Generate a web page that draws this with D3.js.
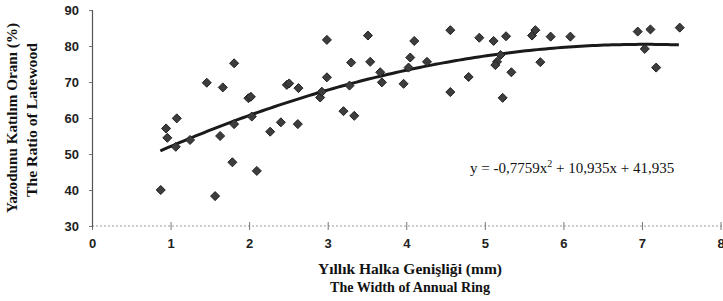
<!DOCTYPE html>
<html><head><meta charset="utf-8">
<script src="https://cdn.jsdelivr.net/npm/d3@7"></script>
<style>body{margin:0;background:#fff;}svg{display:block;}</style>
</head><body>
<script>
const xTicks = [0,1,2,3,4,5,6,7,8];
const yTicks = [30,40,50,60,70,80,90];
const ringWidth = [0.875,0.943,0.959,1.079,1.066,1.248,1.461,1.665,1.567,1.631,1.809,1.787,1.809,1.991,2.022,2.034,2.098,2.268,2.404,2.48,2.51,2.628,2.62,2.904,2.926,2.99,2.99,3.201,3.338,3.299,3.278,3.512,3.541,3.669,3.69,3.966,4.102,4.051,4.029,4.264,4.561,4.561,4.794,4.93,5.112,5.27,5.155,5.134,5.338,5.227,5.2,5.601,5.643,5.707,5.838,6.089,6.946,7.108,7.036,7.181,7.481];
const latewood = [40.0,57.1,54.5,59.9,52.0,53.9,69.8,68.5,38.3,55.0,75.2,47.7,58.3,65.5,65.9,60.4,45.3,56.2,58.8,69.2,69.6,68.3,58.3,65.7,67.3,81.7,71.3,61.9,60.6,75.4,69.0,82.9,75.6,72.7,69.9,69.5,81.4,76.8,74.0,75.6,84.4,67.2,71.4,82.3,81.4,82.7,75.6,74.7,72.7,65.6,77.5,82.9,84.4,75.5,82.6,82.6,84.0,84.6,79.2,74.0,85.1];
const coef = [-0.7759, 10.935, 41.935];
const fitRange = [0.87, 7.5];
const equation = "y = -0,7759x";
const equationRest = " + 10,935x + 41,935";
const xTitle = ["Yıllık Halka Genişliği (mm)", "The Width of Annual Ring"];
const yTitle = ["Yazodunu Katılım Oranı (%)", "The Ratio of Latewood"];

const W = 723, H = 301;
const svg = d3.select("body").append("svg").attr("width", W).attr("height", H);
const x = d3.scaleLinear().domain([0,8]).range([92, 720.5]);
const y = d3.scaleLinear().domain([30,90]).range([226, 10]);

// x axis (dotted)
svg.append("line").attr("x1", x(0)).attr("x2", W).attr("y1", y(30)).attr("y2", y(30))
  .attr("stroke", "#999").attr("stroke-width", 1).attr("stroke-dasharray", "2,2");
const xAxis = d3.axisBottom(x).tickValues(xTicks).tickSize(0).tickPadding(0).tickFormat(d3.format("d"));
const gx = svg.append("g").attr("transform", `translate(0,${y(30)})`).call(xAxis);
gx.select(".domain").remove();
gx.selectAll(".tick").append("line").attr("y1", -4).attr("y2", 4).attr("stroke", "#777");
gx.selectAll("text").attr("y", 22).attr("dy", "0")
  .style("font-family", "'Liberation Sans', Arial, sans-serif").style("font-weight", "bold")
  .style("font-size", "13px").attr("fill", "#222");

// y axis
const yAxis = d3.axisLeft(y).tickValues(yTicks).tickSize(3).tickPadding(10);
const gy = svg.append("g").attr("transform", `translate(${x(0)},0)`).call(yAxis);
gy.select(".domain").attr("stroke", "#555").attr("stroke-width", 1.2);
gy.selectAll(".tick line").attr("stroke", "#777");
gy.selectAll("text").style("font-family", "'Liberation Sans', Arial, sans-serif")
  .style("font-weight", "bold").style("font-size", "13px").attr("fill", "#222");

// trend line
const fx = v => coef[0]*v*v + coef[1]*v + coef[2];
const xs = d3.range(fitRange[0], fitRange[1] + 0.001, 0.05);
svg.append("path").datum(xs)
  .attr("d", d3.line().x(d => x(d)).y(d => y(fx(d))))
  .attr("fill", "none").attr("stroke", "#1a1a1a").attr("stroke-width", 3);

// points
const sym = d3.symbol().type(d3.symbolDiamond2).size(52);
svg.append("g").selectAll("path").data(ringWidth.map((v,i) => [v, latewood[i]])).join("path")
  .attr("d", sym).attr("transform", d => `translate(${x(d[0])},${y(d[1])})`)
  .attr("fill", "#3d3d3d").attr("stroke", "#222").attr("stroke-width", 1);

// equation
const eq = svg.append("text").attr("x", 470).attr("y", 173)
  .style("font-family", "'Liberation Serif', 'Times New Roman', serif").style("font-size", "15px").attr("fill", "#111");
eq.append("tspan").text(equation);
eq.append("tspan").text("2").attr("dy", -6).style("font-size", "10px");
eq.append("tspan").text(equationRest).attr("dy", 6);

// axis titles
const serifBold = (t, len) => t.style("font-family", "'Liberation Serif', 'Times New Roman', serif")
  .style("font-weight", "bold").style("font-size", "14px").attr("fill", "#111").attr("text-anchor", "middle")
  .attr("textLength", len).attr("lengthAdjust", "spacingAndGlyphs");
serifBold(svg.append("text").attr("x", 410).attr("y", 274).text(xTitle[0]), 184);
serifBold(svg.append("text").attr("x", 410).attr("y", 292).text(xTitle[1]), 160);
serifBold(svg.append("text").attr("transform", "translate(17,118) rotate(-90)").text(yTitle[0]), 190);
serifBold(svg.append("text").attr("transform", "translate(37,120) rotate(-90)").text(yTitle[1]), 154);
</script>
</body></html>
